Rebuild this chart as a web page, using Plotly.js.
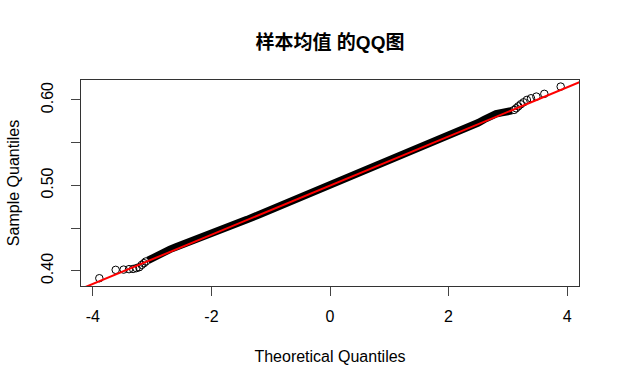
<!DOCTYPE html>
<html>
<head>
<meta charset="utf-8">
<script src="https://cdn.plot.ly/plotly-3.0.1.min.js"></script>
<style>html,body{margin:0;padding:0;background:#fff;}#chart{width:621px;height:387px;}</style>
</head>
<body>
<div id="chart"></div>
<script>
// Lower-tail individual points (theoretical quantile, sample quantile)
var lowTailX = [-3.891, -3.615, -3.481, -3.390, -3.321, -3.265, -3.218, -3.176, -3.139, -3.106];
var lowTailY = [0.3914, 0.4012, 0.4015, 0.4020, 0.4023, 0.4032, 0.4043, 0.4070, 0.4090, 0.4110];

// Dense central band of points
var bandX = [-3.07, -3.0, -2.9, -2.8, -2.7, -2.6, -2.5, -2.4, -2.3, -2.2, -2.1, -2.0, -1.8, -1.6, -1.4, -1.2, -1.0, -0.8, -0.6, -0.4, -0.2, 0,
             0.2, 0.4, 0.6, 0.8, 1.0, 1.2, 1.4, 1.6, 1.8, 2.0, 2.2, 2.4, 2.5, 2.6, 2.7, 2.8, 2.9, 3.0, 3.07];
var bandY = [0.4122, 0.4150, 0.4185, 0.4220, 0.4252, 0.4280, 0.4305, 0.4330, 0.4355, 0.4380, 0.4405, 0.4430, 0.4486, 0.4543, 0.4600, 0.4657, 0.4714, 0.4771, 0.4828, 0.4885, 0.4942, 0.5000,
             0.5057, 0.5114, 0.5171, 0.5228, 0.5285, 0.5342, 0.5400, 0.5457, 0.5515, 0.5574, 0.5634, 0.5697, 0.5733, 0.5772, 0.5810, 0.5838, 0.5852, 0.5864, 0.5875];

// Upper-tail individual points
var highTailX = [3.106, 3.139, 3.176, 3.218, 3.265, 3.321, 3.390, 3.481, 3.615, 3.891];
var highTailY = [0.5884, 0.5903, 0.5926, 0.5950, 0.5973, 0.6001, 0.6020, 0.6040, 0.6072, 0.6157];

// qqline reference: quartiles (theoretical, sample)
var qTheo = [-0.6745, 0.6745];
var qSample = [0.4804, 0.5192];

var slope = (qSample[1] - qSample[0]) / (qTheo[1] - qTheo[0]);
var intercept = qSample[0] - slope * qTheo[0];
var lineX = [-5, 5];
var lineY = lineX.map(function (x) { return intercept + slope * x; });

var markerStyle = {symbol: 'circle-open', size: 7.5, color: '#000', line: {width: 1, color: '#000'}};

var traces = [
  {x: bandX, y: bandY, type: 'scatter', mode: 'lines', line: {color: '#000', width: 7.5}, hoverinfo: 'skip'},
  {x: lowTailX, y: lowTailY, type: 'scatter', mode: 'markers', marker: markerStyle, cliponaxis: false},
  {x: highTailX, y: highTailY, type: 'scatter', mode: 'markers', marker: markerStyle, cliponaxis: false},
  {x: lineX, y: lineY, type: 'scatter', mode: 'lines', line: {color: '#ff0000', width: 2}}
];

var font = 'Liberation Sans, Arial, Noto Sans CJK SC, sans-serif';

var layout = {
  width: 621, height: 387,
  margin: {l: 81, r: 42, t: 80, b: 101, pad: 0},
  paper_bgcolor: '#fff', plot_bgcolor: '#fff',
  showlegend: false,
  font: {family: font, color: '#000', size: 16},
  title: {
    text: '<b>样本均值 的QQ图</b>',
    font: {family: 'Liberation Sans, Noto Sans CJK SC, sans-serif', size: 19, color: '#000'},
    x: 0.5, xanchor: 'center', xref: 'paper',
    y: 1 - 42 / 387, yanchor: 'middle', yref: 'container'
  },
  xaxis: {
    range: [-4.2, 4.2], autorange: false,
    tickvals: [-4, -2, 0, 2, 4], ticktext: ['-4', '-2', '0', '2', '4'],
    ticks: 'outside', ticklen: 9, tickwidth: 1, tickcolor: '#444',
    showline: true, mirror: true, linecolor: '#333', linewidth: 1,
    showgrid: false, zeroline: false,
    tickfont: {size: 16, family: font, color: '#000'},
    ticklabelstandoff: 7,
    title: {text: 'Theoretical Quantiles', font: {size: 16, family: font, color: '#000'}, standoff: 26}
  },
  yaxis: {
    range: [0.3823, 0.6234], autorange: false,
    tickvals: [0.40, 0.45, 0.50, 0.55, 0.60], ticktext: ['0.40', '', '0.50', '', '0.60'],
    tickangle: -90,
    ticks: 'outside', ticklen: 9, tickwidth: 1, tickcolor: '#444',
    showline: true, mirror: true, linecolor: '#333', linewidth: 1,
    showgrid: false, zeroline: false,
    tickfont: {size: 16, family: font, color: '#000'},
    ticklabelstandoff: 12,
    title: {text: 'Sample Quantiles', font: {size: 16, family: font, color: '#000'}, standoff: 14}
  }
};

Plotly.newPlot('chart', traces, layout, {displayModeBar: false, staticPlot: true});
</script>
</body>
</html>
